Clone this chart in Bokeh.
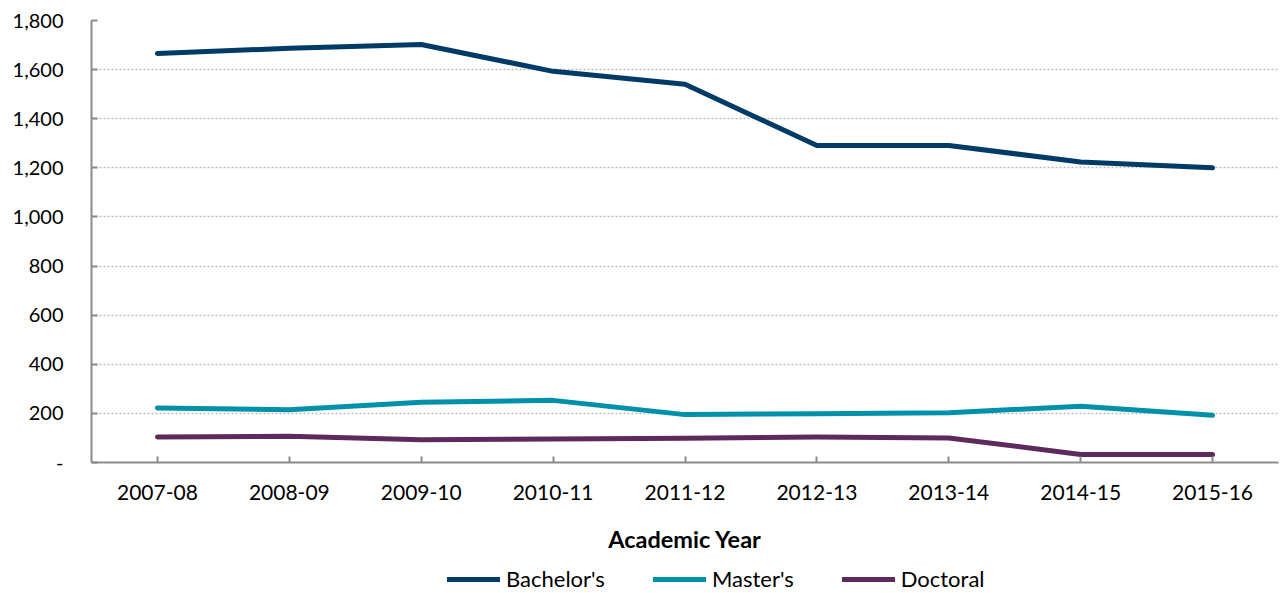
from bokeh.plotting import figure
from bokeh.layouts import column
from bokeh.models import Range1d, FixedTicker, NumeralTickFormatter, Legend, LegendItem
from bokeh.embed import file_html
from bokeh.resources import INLINE

years = ["2007-08", "2008-09", "2009-10", "2010-11", "2011-12",
         "2012-13", "2013-14", "2014-15", "2015-16"]
bachelors = [1666, 1687, 1702, 1593, 1540, 1291, 1291, 1224, 1200]
masters = [222, 215, 245, 253, 195, 199, 203, 229, 192]
doctoral = [104, 107, 93, 96, 99, 104, 100, 33, 33]
y_ticks = [0, 200, 400, 600, 800, 1000, 1200, 1400, 1600, 1800]
series_names = ["Bachelor's", "Master's", "Doctoral"]
colors = ["#003A66", "#0091AA", "#5E2A5E"]

FONT = "Lato"
x = list(range(len(years)))
series = [bachelors, masters, doctoral]

p = figure(width=1280, height=556, output_backend="svg", toolbar_location=None,
           x_range=Range1d(-0.5, len(years) - 0.5), y_range=Range1d(0, 1800),
           min_border_left=91, min_border_right=2, min_border_top=20,
           min_border_bottom=94)
p.outline_line_color = None
p.background_fill_color = "white"
p.border_fill_color = "white"

for vals, c in zip(series, colors):
    p.line(x, vals, line_color=c, line_width=5, line_join="round", line_cap="round")

# x axis
p.xaxis.ticker = FixedTicker(ticks=x)
p.xaxis.major_label_overrides = {i: y for i, y in enumerate(years)}
p.xaxis.axis_label = "Academic Year"
p.xaxis.axis_label_text_font = FONT
p.xaxis.axis_label_text_font_style = "bold"
p.xaxis.axis_label_text_font_size = "23.5px"
p.xaxis.axis_label_text_color = "black"
p.xaxis.axis_label_standoff = 22
p.xaxis.major_label_text_font = FONT
p.xaxis.major_label_text_font_size = "21px"
p.xaxis.major_label_text_color = "black"
p.xaxis.major_label_standoff = 22
p.xaxis.axis_line_color = "#8C8C8C"
p.xaxis.axis_line_width = 2
p.xaxis.major_tick_line_color = "#8C8C8C"
p.xaxis.major_tick_line_width = 2
p.xaxis.major_tick_in = 6
p.xaxis.major_tick_out = 0
p.xaxis.minor_tick_line_color = None

# y axis
p.yaxis.ticker = FixedTicker(ticks=y_ticks)
p.yaxis.formatter = NumeralTickFormatter(format="0,0")
p.yaxis.major_label_overrides = {0: "-"}
p.yaxis.major_label_text_font = FONT
p.yaxis.major_label_text_font_size = "20px"
p.yaxis.major_label_text_color = "black"
p.yaxis.major_label_standoff = 28
p.yaxis.axis_line_color = "#8C8C8C"
p.yaxis.axis_line_width = 2
p.yaxis.major_tick_line_color = "#8C8C8C"
p.yaxis.major_tick_line_width = 2
p.yaxis.major_tick_in = 6
p.yaxis.major_tick_out = 0
p.yaxis.minor_tick_line_color = None

p.xgrid.grid_line_color = None
p.ygrid.grid_line_color = "#BDBDBD"
p.ygrid.grid_line_dash = "2 2"
p.ygrid.grid_line_width = 1.5

# legend strip below the chart (same series, drawn outside its visible range)
lg = figure(width=1280, height=37, output_backend="svg", toolbar_location=None,
            x_range=Range1d(-0.5, len(years) - 0.5), y_range=Range1d(-2, -1),
            x_axis_location=None, y_axis_location=None,
            min_border_left=0, min_border_right=0, min_border_top=0, min_border_bottom=0)
lg.outline_line_color = None
lg.xgrid.grid_line_color = None
lg.ygrid.grid_line_color = None
items = []
for name, vals, c in zip(series_names, series, colors):
    r = lg.line(x, vals, line_color=c, line_width=5, line_cap="round")
    items.append(LegendItem(label=name, renderers=[r]))

legend = Legend(items=items, orientation="horizontal", location=(356, 1))
legend.label_text_font = FONT
legend.label_text_font_size = "22px"
legend.label_text_color = "black"
legend.glyph_width = 53
legend.glyph_height = 20
legend.label_standoff = 6
legend.spacing = 48
legend.border_line_color = None
legend.background_fill_color = None
legend.background_fill_alpha = 0
legend.padding = 0
legend.margin = 0
lg.add_layout(legend, "center")

layout = column(p, lg, spacing=0)
open("out.html", "w").write(file_html(layout, INLINE))
